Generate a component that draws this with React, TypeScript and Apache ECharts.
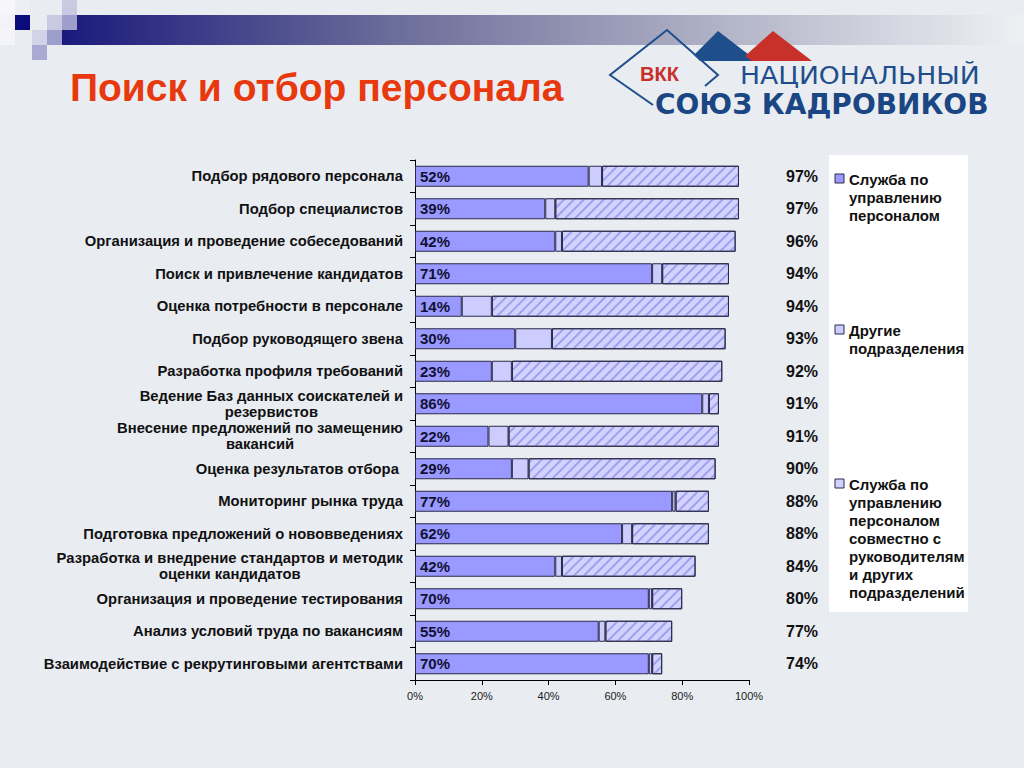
import React, { useEffect, useRef } from "react";
import * as echarts from "echarts";

const categories = [
  "Подбор рядового персонала",
  "Подбор специалистов",
  "Организация и проведение собеседований",
  "Поиск и привлечение кандидатов",
  "Оценка потребности в персонале",
  "Подбор руководящего звена",
  "Разработка профиля требований",
  "Ведение Баз данных соискателей и\nрезервистов",
  "Внесение предложений по замещению\nвакансий",
  "Оценка результатов отбора ",
  "Мониторинг рынка труда",
  "Подготовка предложений о нововведениях",
  "Разработка и внедрение стандартов и методик\nоценки кандидатов",
  "Организация и проведение тестирования",
  "Анализ условий труда по вакансиям",
  "Взаимодействие с рекрутинговыми агентствами",
];
const hrService = [52, 39, 42, 71, 14, 30, 23, 86, 22, 29, 77, 62, 42, 70, 55, 70];
const otherDepts = [4, 3, 2, 3, 9, 11, 6, 2, 6, 5, 1, 3, 2, 1, 2, 1];
const jointWork = [41, 55, 52, 20, 71, 52, 63, 3, 63, 56, 10, 23, 40, 9, 20, 3];
const totals = [97, 97, 96, 94, 94, 93, 92, 91, 91, 90, 88, 88, 84, 80, 77, 74];
const seriesNames = [
  "Служба по\nуправлению\nперсоналом",
  "Другие\nподразделения",
  "Служба по\nуправлению\nперсоналом\nсовместно с\nруководителям\nи других\nподразделений",
];
const title = "Поиск и отбор персонала";

const FONT = "'Liberation Sans', Arial, Helvetica, sans-serif";
const C_HR = "#9999FF";
const C_OTHER = "#CCCCFF";
const C_JOINT = "#D2D2FF";
const BORDER = "#2B2B4A";

export default function App() {
  const ref = useRef<HTMLDivElement>(null);
  useEffect(() => {
    const chart = echarts.init(ref.current!, undefined, { renderer: "svg" });
    const legendTops = [170, 321, 475];
    const legendColors = [C_HR, C_OTHER, C_JOINT];
    const legendGraphics: any[] = [
      { type: "rect", shape: { x: 829, y: 155, width: 139, height: 457 }, style: { fill: "#FFFFFF" } },
    ];
    seriesNames.forEach((n, i) => {
      legendGraphics.push({
        type: "rect",
        shape: { x: 835, y: legendTops[i] + 4, width: 9, height: 9 },
        style: { fill: legendColors[i], stroke: BORDER, lineWidth: 1 },
      });
      legendGraphics.push({
        type: "text",
        x: 849,
        y: legendTops[i],
        style: {
          text: n,
          font: `bold 15px ${FONT}`,
          fill: "#111",
          lineHeight: 18,
          verticalAlign: "top",
        },
      });
    });

    const squares: [number, number, string][] = [
      [0, 0, "#F6F6FB"], [0, 15, "#F2F2F8"], [0, 30, "#F4F4F9"],
      [15, 0, "#EEEEF6"], [15, 15, "#0B0B7C"],
      [47, 15, "#C9CAE2"], [62, 0, "#C9CAE2"], [62, 15, "#9D9ECC"],
      [32, 30, "#D2D3E7"], [47, 30, "#9D9ECC"], [32, 45, "#A9AAD2"],
    ];

    chart.setOption({
      animation: false,
      backgroundColor: "#E9ECF1",
      textStyle: { fontFamily: FONT },
      graphic: [
        {
          type: "rect",
          shape: { x: 62, y: 15, width: 962, height: 30 },
          style: {
            fill: new echarts.graphic.LinearGradient(0, 0, 1, 0, [
              { offset: 0, color: "#1A1A7C" },
              { offset: 0.35, color: "#6C6E9A" },
              { offset: 0.7, color: "#B4B6C9" },
              { offset: 1, color: "#EEF0F4" },
            ]),
          },
        },
        ...squares.map(([x, y, c]) => ({
          type: "rect",
          shape: { x, y, width: 15, height: 15 },
          style: { fill: c },
        })),
        {
          type: "text",
          x: 70,
          y: 87,
          style: {
            text: title,
            font: `bold 39px ${FONT}`,
            fill: "#E8380D",
            verticalAlign: "middle",
          },
        },
        // logo
        {
          type: "polyline",
          shape: { points: [[653, 105], [610, 75], [667, 30], [718, 75], [705, 86]] },
          style: { stroke: "#1F4E8C", lineWidth: 2, fill: "none" },
        },
        {
          type: "polygon",
          shape: { points: [[694, 55], [718, 31], [757, 61], [700, 61]] },
          style: { fill: "#1F4E8C" },
        },
        {
          type: "polygon",
          shape: { points: [[745, 56], [773, 31], [812, 61], [752, 61]] },
          style: { fill: "#C8302A" },
        },
        {
          type: "text",
          x: 640,
          y: 74,
          style: { text: "ВКК", font: `bold 20px ${FONT}`, fill: "#C8302A", verticalAlign: "middle" },
        },
        {
          type: "text",
          x: 740,
          y: 75,
          scaleX: 1.11,
          style: { text: "НАЦИОНАЛЬНЫЙ", font: `24px 'DejaVu Sans', ${FONT}`, fill: "#1F4E8C", verticalAlign: "middle" },
        },
        {
          type: "text",
          x: 655,
          y: 104,
          style: { text: "СОЮЗ КАДРОВИКОВ", font: `bold 28px 'DejaVu Sans', ${FONT}`, fill: "#1A4683", verticalAlign: "middle" },
        },
        ...legendGraphics,
      ],
      grid: { left: 415, right: 275, top: 160, bottom: 88, containLabel: false },
      xAxis: {
        type: "value",
        min: 0,
        max: 100,
        interval: 20,
        axisLine: { show: true, lineStyle: { color: "#000", width: 1 } },
        axisTick: { show: true, length: 5, lineStyle: { color: "#000" } },
        splitLine: { show: false },
        axisLabel: { formatter: "{value}%", fontSize: 11, color: "#222", margin: 10, fontFamily: FONT },
      },
      yAxis: [
        {
          type: "category",
          inverse: true,
          data: categories,
          axisLine: { show: true, lineStyle: { color: "#000", width: 1 } },
          axisTick: { show: true, length: 5, lineStyle: { color: "#000" } },
          axisLabel: {
            fontSize: 14.8,
            fontWeight: "bold",
            color: "#111",
            margin: 12,
            lineHeight: 16,
            fontFamily: FONT,
            formatter: (v: string) =>
              v.includes("\n") ? v.split("\n").map((s) => `{c|${s}}`).join("\n") : v,
            rich: {
              c: {
                align: "center",
                fontSize: 14.8,
                fontWeight: "bold",
                color: "#111",
                lineHeight: 16,
                fontFamily: FONT,
              },
            },
          },
        },
        {
          type: "category",
          inverse: true,
          position: "right",
          data: totals.map((v) => v + "%"),
          axisLine: { show: false },
          axisTick: { show: false },
          axisLabel: { fontSize: 16, fontWeight: "bold", color: "#111", margin: 37, fontFamily: FONT },
        },
      ],
      series: [
        {
          name: seriesNames[0],
          type: "bar",
          stack: "total",
          barWidth: 21,
          data: hrService,
          itemStyle: { color: C_HR, borderColor: BORDER, borderWidth: 1 },
          label: {
            show: true,
            position: "insideLeft",
            distance: 5,
            formatter: "{c}%",
            fontSize: 15,
            fontWeight: "bold",
            color: "#111133",
            fontFamily: FONT,
          },
        },
        {
          name: seriesNames[1],
          type: "bar",
          stack: "total",
          barWidth: 21,
          data: otherDepts,
          itemStyle: { color: C_OTHER, borderColor: BORDER, borderWidth: 1 },
        },
        {
          name: seriesNames[2],
          type: "bar",
          stack: "total",
          barWidth: 21,
          data: jointWork,
          itemStyle: {
            color: C_JOINT,
            borderColor: BORDER,
            borderWidth: 1,
            decal: {
              symbol: "rect",
              symbolSize: 1,
              color: "rgba(110,110,220,0.5)",
              dashArrayX: [1, 0],
              dashArrayY: [2, 5],
              rotation: -Math.PI / 4,
            },
          },
        },
      ],
    });
    return () => chart.dispose();
  }, []);
  return (
    <div
      ref={ref}
      style={{ position: "fixed", left: 0, top: 0, width: 1024, height: 768 }}
    />
  );
}
